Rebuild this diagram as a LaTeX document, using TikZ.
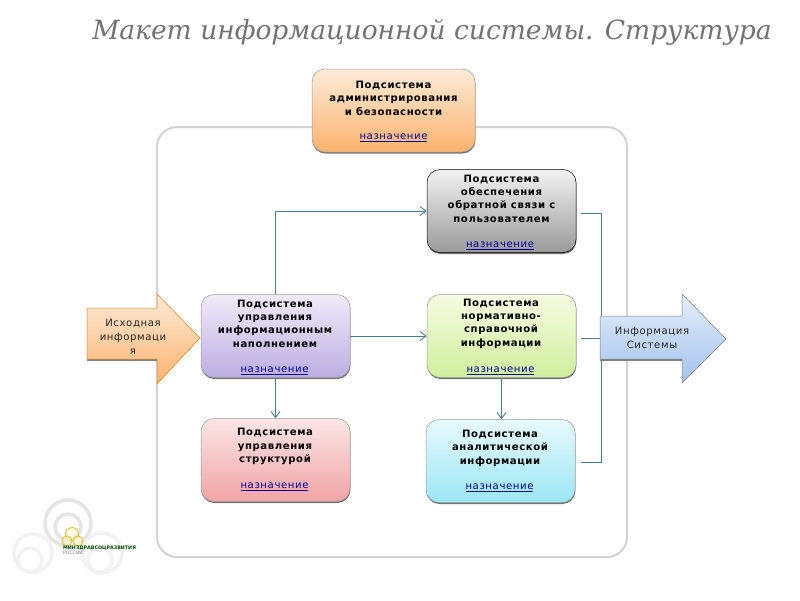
\documentclass[tikz,border=0pt]{standalone}
\usepackage{fontspec}
\setmainfont{DejaVu Sans}
\newfontfamily\titlefont{DejaVu Serif}
\newfontfamily\spacedfont[LetterSpace=6]{DejaVu Sans}
\usetikzlibrary{arrows.meta,shadows}
\definecolor{conn}{HTML}{4F7C92}
\definecolor{admintop}{HTML}{FDEBD8}\definecolor{adminbot}{HTML}{FBB36E}
\definecolor{fbtop}{HTML}{F2F2F2}\definecolor{fbbot}{HTML}{9A9A9A}
\definecolor{mgtop}{HTML}{F0EAF8}\definecolor{mgbot}{HTML}{BCAEE2}
\definecolor{nmtop}{HTML}{F6FBE2}\definecolor{nmbot}{HTML}{CFEF9C}
\definecolor{sttop}{HTML}{FCE6E6}\definecolor{stbot}{HTML}{F2A3A6}
\definecolor{antop}{HTML}{E8FAFD}\definecolor{anbot}{HTML}{9BE6F5}
\definecolor{blarrowtop}{HTML}{E4EEFB}\definecolor{blarrowbot}{HTML}{A3C2EE}
\tikzset{
 x=1pt,y=-1pt,
 box/.style={rounded corners=13pt,minimum width=#1,minimum height=83pt,inner sep=0pt,draw=black!40,line width=.5pt,
   drop shadow={shadow xshift=.4pt,shadow yshift=-1.5pt,fill=black,opacity=.55}},
 sub/.style={font=\spacedfont\fontsize{10.1}{13.4}\selectfont\bfseries,align=center,text=black,inner sep=0pt},
 lnk/.style={font=\spacedfont\fontsize{10.1}{12}\selectfont,text=blue!60!black,inner sep=0pt},
 plain/.style={font=\spacedfont\fontsize{10.1}{14}\selectfont,align=center,text=black!85,inner sep=0pt},
 conline/.style={draw=conn,line width=.7pt},
 conarrow/.style={conline,-{Straight Barb[length=6pt,width=9pt,line width=.9pt]}},
 bigarrow/.style={draw=#1,line width=.5pt},
 ring/.style={draw=black!10,line width=3.5pt},
 ringb/.style={draw=black!5,line width=3.5pt},
 gold/.style={draw=yellow!50!brown,line width=.9pt,fill=yellow!20,fill opacity=.5}
}
\begin{document}
\begin{tikzpicture}
\useasboundingbox (0,0) rectangle (800,600);
\fill[white] (0,0) rectangle (800,600);
% title
\node[font=\titlefont\itshape\fontsize{26.5}{30}\selectfont,text=black!55,inner sep=0pt] (title) at (432,32) {Макет информационной системы. Структура};
% frame
\node[draw=black!17,line width=2pt,rounded corners=20pt,minimum width=470pt,minimum height=430pt,inner sep=0pt] (frame) at (392,342) {};
% logo
\draw[ring] (68,523) circle (23);
\draw[ring] (68,527) circle (13);
\draw[ringb] (33,553) circle (19);
\draw[ringb] (30,560) circle (12);
\draw[ringb] (102,553) circle (20);
\draw[ringb] (100,560) circle (12);
\draw[gold] (72,534) circle (6.5);
\draw[gold] (67,541) circle (5);
\draw[gold] (78,541) circle (5);
\node[font=\fontsize{4.8}{5}\selectfont\bfseries,text=green!30!black,anchor=west,inner sep=0pt] (logotxt) at (63,548) {МИНЗДРАВСОЦРАЗВИТИЯ};
\node[font=\fontsize{4.6}{5}\selectfont,text=black!50,anchor=west,inner sep=0pt] (logotxt2) at (63,553) {РОССИИ};
% boxes
\node[box=163pt,top color=admintop,bottom color=adminbot,shading angle=0] (admin) at (393.5,110.5) {};
\node[box=149pt,draw=black,top color=fbtop,bottom color=fbbot] (fb) at (501.5,211) {};
\node[box=149pt,top color=mgtop,bottom color=mgbot] (mgmt) at (275.5,336) {};
\node[box=149pt,top color=nmtop,bottom color=nmbot] (norm) at (501.5,336) {};
\node[box=149pt,top color=sttop,bottom color=stbot] (struct) at (275.5,460) {};
\node[box=149pt,top color=antop,bottom color=anbot] (anal) at (500.5,461) {};
% box texts
\node[sub] (admint) at (393.5,98) {Подсистема\\администрирования\\и безопасности};
\node[lnk] (adminl) at (393.5,137.5) {\underline{назначение}};
\node[sub] (fbt) at (501.5,198.5) {Подсистема\\обеспечения\\обратной связи с\\пользователем};
\node[lnk] (fbl) at (500,245.5) {\underline{назначение}};
\node[sub] (mgmtt) at (275,323.5) {Подсистема\\управления\\информационным\\наполнением};
\node[lnk] (mgmtl) at (274.5,370.5) {\underline{назначение}};
\node[sub] (normt) at (501,323.5) {Подсистема\\нормативно-\\справочной\\информации};
\node[lnk] (norml) at (500.5,370.5) {\underline{назначение}};
\node[sub] (structt) at (275,446.5) {Подсистема\\управления\\структурой};
\node[lnk] (structl) at (274.5,486.5) {\underline{назначение}};
\node[sub] (analt) at (500,448) {Подсистема\\аналитической\\информации};
\node[lnk] (analtl) at (499.5,487.5) {\underline{назначение}};
% connectors
\draw[conarrow] (mgmt.north) |- (fb.west);
\draw[conarrow] (mgmt.east) -- (norm.west);
\draw[conarrow] (mgmt.south) -- (struct.north);
\draw[conarrow] (norm.south) -- (anal.north-|norm.south);
\coordinate (busa) at (601,213);
\coordinate (busb) at (601,462);
\coordinate (busc) at (601,338);
\draw[conline] ([xshift=5pt,yshift=-2pt]fb.east) -- (busa) -- (busb) -- ([xshift=6pt,yshift=-1pt]anal.east);
\draw[conline] ([xshift=5pt,yshift=-2pt]norm.east) -- (busc);
% big arrows
\fill[black!50] (87,311) -- (157,311) -- (157,361) -- (87,361) -- cycle;
\path[bigarrow=orange!60!brown,top color=admintop,bottom color=adminbot,draw] (87,308) -- (157,308) -- (157,294) -- (200,338) -- (157,384) -- (157,359) -- (87,359) -- cycle;
\node[plain] (src) at (133,336.5) {Исходная\\информаци\\я};
\fill[black!50] (600,320) -- (682,320) -- (682,361) -- (600,361) -- cycle;
\path[bigarrow=black!50,top color=blarrowtop,bottom color=blarrowbot,draw] (600,316) -- (682,316) -- (682,294) -- (726,339) -- (682,383) -- (682,359) -- (600,359) -- cycle;
\node[plain] (dst) at (652,338) {Информация\\Системы};
\end{tikzpicture}
\end{document}
